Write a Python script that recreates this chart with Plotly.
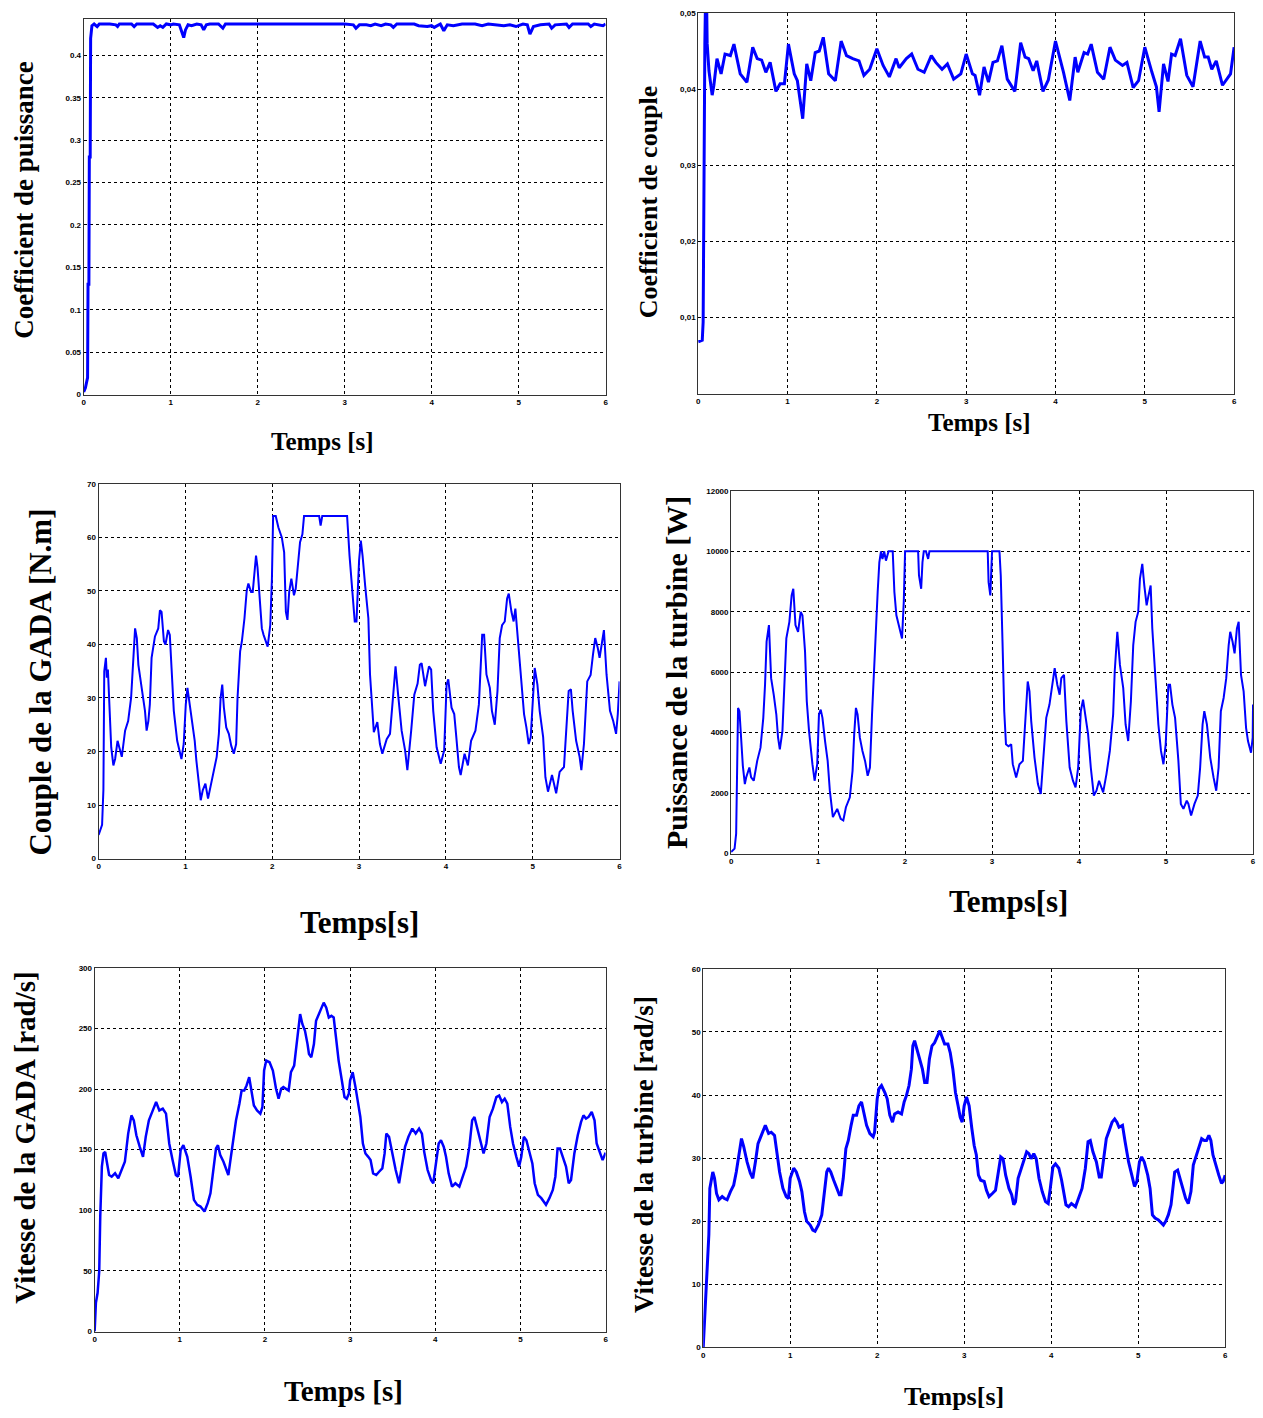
import plotly.graph_objects as go

W, H = 1263, 1418

# ---------------- data ----------------
# Plot 1 : Coefficient de puissance
cp_t = [0, 0.02, 0.045, 0.05, 0.06, 0.065, 0.075, 0.08, 0.095, 0.12,
        0.155, 0.18, 0.3, 0.37, 0.39, 0.41, 0.55, 0.58, 0.61, 0.8,
        0.85, 0.88, 0.91, 0.95, 1.0, 1.03, 1.1, 1.13, 1.15, 1.17,
        1.2, 1.24, 1.3, 1.35, 1.38, 1.41, 1.45, 1.55, 1.6, 1.63,
        3.0, 3.1, 3.13, 3.17, 3.25, 3.3, 3.35, 3.42, 3.47, 3.53,
        3.56, 3.6, 3.8, 3.85, 3.95, 4.0, 4.03, 4.1, 4.14, 4.18,
        4.25, 4.35, 4.5, 4.58, 4.65, 4.83, 4.9, 4.97, 5.05, 5.1,
        5.13, 5.17, 5.25, 5.35, 5.38, 5.42, 5.55, 5.58, 5.62, 5.8,
        5.83, 5.87, 5.97, 6.0]
cp_v = [0.003, 0.008, 0.02, 0.13, 0.13, 0.28, 0.28, 0.42, 0.435, 0.437,
        0.434, 0.437, 0.437, 0.436, 0.434, 0.437, 0.437, 0.434, 0.437, 0.437,
        0.433, 0.435, 0.433, 0.437, 0.436, 0.437, 0.436, 0.428, 0.421, 0.430,
        0.436, 0.435, 0.437, 0.436, 0.430, 0.436, 0.437, 0.437, 0.432, 0.437,
        0.437, 0.436, 0.432, 0.436, 0.436, 0.435, 0.437, 0.435, 0.437, 0.436,
        0.433, 0.437, 0.437, 0.435, 0.434, 0.435, 0.433, 0.437, 0.429, 0.436,
        0.435, 0.437, 0.437, 0.435, 0.437, 0.435, 0.436, 0.434, 0.437, 0.436,
        0.425, 0.434, 0.436, 0.437, 0.432, 0.436, 0.437, 0.433, 0.437, 0.437,
        0.434, 0.437, 0.435, 0.437]

# Plot 2 : Coefficient de couple
cm_t = [0, 0.045, 0.055, 0.063, 0.074, 0.08, 0.095, 0.1, 0.12, 0.156,
        0.175, 0.21, 0.256, 0.30, 0.36, 0.40, 0.47, 0.545, 0.61, 0.66,
        0.71, 0.757, 0.805, 0.87, 0.917, 0.965, 1.01, 1.075, 1.11, 1.17,
        1.215, 1.26, 1.31, 1.355, 1.40, 1.46, 1.535, 1.60, 1.66, 1.73,
        1.8, 1.855, 1.92, 2.0, 2.07, 2.14, 2.215, 2.25, 2.33, 2.39,
        2.46, 2.53, 2.61, 2.66, 2.73, 2.79, 2.86, 2.94, 3.0, 3.07,
        3.1, 3.15, 3.2, 3.25, 3.3, 3.35, 3.4, 3.46, 3.545, 3.61,
        3.66, 3.7, 3.75, 3.79, 3.86, 3.92, 4.0, 4.09, 4.16, 4.22,
        4.25, 4.32, 4.36, 4.4, 4.47, 4.54, 4.61, 4.67, 4.75, 4.8,
        4.87, 4.93, 5.0, 5.08, 5.13, 5.16, 5.21, 5.26, 5.3, 5.34,
        5.4, 5.47, 5.54, 5.62, 5.67, 5.71, 5.75, 5.8, 5.87, 5.96,
        6.0]
cm_v = [0.0068, 0.0070, 0.0094, 0.0298, 0.0459, 0.0505, 0.0505, 0.046, 0.0424, 0.0392,
        0.0405, 0.044, 0.042, 0.0446, 0.0444, 0.0459, 0.042, 0.0409, 0.0455, 0.044,
        0.0438, 0.0422, 0.0435, 0.0397, 0.0407, 0.0407, 0.0459, 0.042, 0.0411, 0.0361,
        0.0433, 0.0411, 0.0448, 0.0450, 0.0468, 0.042, 0.0411, 0.0463, 0.0444, 0.044,
        0.0437, 0.0418, 0.0426, 0.0453, 0.0431, 0.0416, 0.044, 0.0428, 0.044, 0.0446,
        0.0426, 0.0422, 0.0444, 0.0435, 0.0426, 0.0433, 0.0413, 0.042, 0.0446, 0.042,
        0.0418, 0.0392, 0.0429, 0.0409, 0.0435, 0.0437, 0.0457, 0.0413, 0.0397, 0.0461,
        0.0442, 0.044, 0.0424, 0.0437, 0.0397, 0.0412, 0.0463, 0.0422, 0.0385, 0.0442,
        0.0422, 0.0448, 0.0446, 0.0459, 0.0422, 0.0413, 0.0455, 0.0438, 0.0431, 0.0435,
        0.0402, 0.0411, 0.0455, 0.0422, 0.0403, 0.037, 0.0433, 0.041, 0.0446, 0.0444,
        0.0466, 0.0418, 0.0403, 0.0463, 0.0442, 0.0442, 0.0426, 0.0437, 0.0405, 0.042,
        0.0455]

# Plot 3 : Couple de la GADA
tem_t = [0, 0.04, 0.055, 0.065, 0.084, 0.095, 0.107, 0.12, 0.134, 0.145,
         0.17, 0.19, 0.218, 0.237, 0.267, 0.305, 0.34, 0.374, 0.393, 0.42,
         0.44, 0.458, 0.496, 0.534, 0.553, 0.573, 0.59, 0.61, 0.649, 0.687,
         0.706, 0.725, 0.752, 0.77, 0.80, 0.82, 0.84, 0.866, 0.905, 0.954,
         0.98, 1.004, 1.023, 1.05, 1.08, 1.107, 1.126, 1.157, 1.176, 1.2,
         1.23, 1.26, 1.3, 1.324, 1.36, 1.385, 1.405, 1.424, 1.443, 1.47,
         1.5, 1.527, 1.557, 1.584, 1.6, 1.63, 1.65, 1.68, 1.706, 1.725,
         1.756, 1.775, 1.794, 1.813, 1.83, 1.85, 1.88, 1.9, 1.947, 1.977,
         1.996, 2.01, 2.04, 2.07, 2.11, 2.137, 2.157, 2.175, 2.195, 2.22,
         2.25, 2.27, 2.29, 2.32, 2.347, 2.366, 2.54, 2.557, 2.576, 2.862,
         2.89, 2.92, 2.95, 2.97, 2.985, 3.0, 3.02, 3.04, 3.07, 3.107,
         3.126, 3.15, 3.17, 3.21, 3.24, 3.268, 3.318, 3.356, 3.395, 3.42,
         3.45, 3.49, 3.53, 3.556, 3.6, 3.636, 3.674, 3.7, 3.72, 3.76,
         3.805, 3.83, 3.854, 3.893, 3.94, 3.98, 4.008, 4.027, 4.065, 4.096,
         4.12, 4.15, 4.17, 4.215, 4.253, 4.29, 4.34, 4.38, 4.418, 4.44,
         4.467, 4.506, 4.53, 4.563, 4.594, 4.62, 4.647, 4.678, 4.705, 4.724,
         4.755, 4.78, 4.8, 4.837, 4.87, 4.9, 4.927, 4.954, 4.977, 5.0,
         5.023, 5.054, 5.08, 5.12, 5.146, 5.176, 5.222, 5.27, 5.31, 5.36,
         5.387, 5.414, 5.44, 5.46, 5.5, 5.54, 5.56, 5.59, 5.628, 5.667,
         5.694, 5.72, 5.75, 5.77, 5.8, 5.82, 5.85, 5.89, 5.927, 5.96,
         5.98, 6.0]
tem_v = [4.4, 6.3, 12.8, 35, 37.5, 33.8, 35.3, 29.4, 25, 20.8,
         17.4, 18.6, 22, 20.8, 19, 23.9, 25.7, 30, 36.2, 43,
         41.2, 36.2, 31.9, 27.6, 23.9, 25.7, 28.8, 37.5, 41.5, 43,
         46.4, 46.1, 40.6, 40, 42.7, 41.8, 35.6, 27.6, 22, 18.6,
         21.4, 28.8, 31.9, 28.8, 25, 22, 18.3, 14, 10.9, 12.8,
         14, 11.2, 14.6, 16.5, 19, 23.3, 30, 32.5, 28.2, 24.5,
         23.3, 21.1, 19.6, 21.4, 30, 38.7, 40.6, 44.9, 50.1, 51.4,
         49.8, 49.8, 53.8, 56.6, 54.4, 49.2, 43, 41.8, 39.6, 43.6,
         52.3, 64, 64, 61.9, 60, 57.2, 46.1, 44.6, 49.8, 52.3,
         49.2, 50.4, 54.4, 59.1, 60.6, 64, 64, 62.2, 64, 64,
         56.6, 50.4, 44.3, 44.3, 49.8, 55.7, 59.4, 56.6, 51, 44.9,
         34.4, 28.2, 23.6, 25.5, 21.4, 19.6, 22.3, 23.3, 31.3, 35.9,
         30.6, 23.9, 20.2, 16.5, 23.9, 30.6, 32.7, 36.2, 36.5, 32.2,
         35.9, 35.3, 27.6, 20.8, 17.7, 20.2, 32.5, 33.5, 28.2, 27,
         22.7, 17.1, 15.6, 19.6, 17.4, 22, 23.9, 28.8, 41.8, 41.8,
         34.4, 31.9, 27.6, 25, 31.3, 41.2, 43.6, 44.3, 48.6, 49.5,
         46.1, 44.3, 46.7, 39.3, 31.3, 27, 24.5, 21.4, 22.7, 30.6,
         35.6, 32.5, 27.6, 22.7, 15.2, 12.5, 15.6, 12.2, 16.2, 17.1,
         23.3, 31.3, 31.6, 27.6, 22, 19, 16.5, 21.4, 33.1, 34.3,
         38.1, 41.2, 39.3, 37.5, 40.6, 42.7, 34.4, 27.6, 25.7, 23.3,
         27, 33.1]

# Plot 4 : Puissance de la turbine
pt_t = [0, 0.04, 0.058, 0.069, 0.08, 0.096, 0.115, 0.135, 0.158, 0.173,
        0.21, 0.23, 0.26, 0.3, 0.338, 0.37, 0.39, 0.408, 0.435, 0.46,
        0.49, 0.52, 0.54, 0.56, 0.59, 0.61, 0.635, 0.67, 0.696, 0.715,
        0.74, 0.77, 0.8, 0.82, 0.85, 0.87, 0.896, 0.935, 0.96, 0.99,
        1.01, 1.03, 1.05, 1.08, 1.11, 1.135, 1.17, 1.22, 1.26, 1.29,
        1.32, 1.365, 1.396, 1.415, 1.435, 1.454, 1.48, 1.51, 1.54, 1.57,
        1.596, 1.62, 1.646, 1.665, 1.685, 1.704, 1.723, 1.74, 1.76, 1.78,
        1.81, 1.858, 1.877, 1.9, 1.935, 1.965, 1.985, 2.0, 2.15, 2.16,
        2.185, 2.2, 2.215, 2.24, 2.265, 2.28, 2.95, 2.96, 2.98, 2.99,
        3.0, 3.085, 3.1, 3.12, 3.14, 3.16, 3.188, 3.22, 3.238, 3.277,
        3.315, 3.354, 3.38, 3.41, 3.43, 3.45, 3.488, 3.527, 3.56, 3.585,
        3.623, 3.66, 3.688, 3.72, 3.75, 3.777, 3.796, 3.827, 3.854, 3.892,
        3.93, 3.96, 3.99, 4.02, 4.046, 4.073, 4.104, 4.135, 4.17, 4.2,
        4.23, 4.277, 4.315, 4.354, 4.392, 4.41, 4.44, 4.47, 4.508, 4.535,
        4.565, 4.596, 4.623, 4.65, 4.68, 4.7, 4.727, 4.75, 4.777, 4.796,
        4.823, 4.842, 4.873, 4.912, 4.942, 4.97, 4.996, 5.027, 5.046, 5.073,
        5.104, 5.142, 5.17, 5.2, 5.238, 5.257, 5.288, 5.327, 5.365, 5.392,
        5.42, 5.44, 5.47, 5.508, 5.546, 5.577, 5.604, 5.63, 5.662, 5.692,
        5.72, 5.738, 5.765, 5.788, 5.815, 5.835, 5.862, 5.892, 5.92, 5.942,
        5.977, 5.996, 6.0]
pt_v = [55, 164, 657, 3395, 4819, 4710, 3724, 2902, 2300, 2519,
        2848, 2519, 2410, 3067, 3505, 4491, 5586, 7010, 7558, 5805,
        5257, 4600, 3834, 3450, 4053, 5476, 7119, 7667, 8543, 8762,
        7558, 7338, 7996, 7886, 6681, 5038, 4053, 2957, 2410, 2957,
        4600, 4764, 4491, 3724, 3067, 2081, 1205, 1479, 1150, 1095,
        1533, 1862, 2738, 3943, 4819, 4600, 3834, 3395, 3067, 2574,
        2848, 4600, 6352, 7448, 8653, 9639, 10000, 9748, 10000, 9693,
        10000, 10000, 8653, 7886, 7448, 7119, 8324, 10000, 10000, 9200,
        8762, 9639, 10000, 10000, 9748, 10000, 10000, 8981, 8543, 9300,
        10000, 10000, 9200, 7010, 4710, 3614, 3550, 3614, 2957, 2519,
        2957, 3067, 4491, 5695, 5367, 4381, 3176, 2300, 1971, 2957,
        4491, 4929, 5586, 6133, 5586, 5257, 5805, 5915, 4381, 2848,
        2410, 2190, 2848, 4710, 5093, 4491, 3943, 2848, 1917, 2081,
        2410, 2026, 2629, 3395, 4600, 6024, 7338, 6243, 5476, 4271,
        3724, 5038, 6900, 7667, 7996, 9091, 9584, 8872, 8215, 8500,
        8872, 7448, 5915, 4271, 3395, 2957, 3614, 5586, 5586, 4929,
        4491, 3067, 1643, 1479, 1752, 1643, 1260, 1643, 1917, 2848,
        4271, 4710, 4271, 3176, 2519, 2081, 2848, 4710, 5148, 5805,
        6900, 7338, 7010, 6626, 7448, 7667, 5915, 5367, 4162, 3724,
        3340, 3834, 4929]

# Plot 5 : Vitesse de la GADA
wg_t = [0, 0.015, 0.035, 0.054, 0.066, 0.085, 0.104, 0.124, 0.143, 0.17,
        0.2, 0.24, 0.278, 0.317, 0.355, 0.394, 0.432, 0.46, 0.49, 0.53,
        0.568, 0.6, 0.637, 0.683, 0.722, 0.76, 0.8, 0.838, 0.876, 0.915,
        0.954, 0.98, 1.01, 1.042, 1.088, 1.127, 1.166, 1.205, 1.243, 1.29,
        1.328, 1.36, 1.4, 1.425, 1.448, 1.475, 1.513, 1.544, 1.57, 1.6,
        1.63, 1.66, 1.7, 1.726, 1.757, 1.784, 1.815, 1.84, 1.87, 1.907,
        1.946, 1.97, 1.99, 2.015, 2.054, 2.093, 2.13, 2.16, 2.19, 2.216,
        2.247, 2.278, 2.305, 2.343, 2.363, 2.394, 2.413, 2.44, 2.47, 2.5,
        2.517, 2.544, 2.575, 2.6, 2.633, 2.664, 2.69, 2.72, 2.75, 2.78,
        2.807, 2.834, 2.865, 2.903, 2.934, 2.96, 2.985, 3.0, 3.03, 3.063,
        3.094, 3.12, 3.15, 3.18, 3.213, 3.24, 3.27, 3.307, 3.34, 3.378,
        3.405, 3.425, 3.457, 3.496, 3.535, 3.575, 3.614, 3.645, 3.685, 3.73,
        3.77, 3.81, 3.843, 3.87, 3.91, 3.95, 3.976, 4.0, 4.04, 4.067,
        4.1, 4.126, 4.157, 4.197, 4.236, 4.283, 4.323, 4.362, 4.4, 4.433,
        4.46, 4.49, 4.527, 4.567, 4.6, 4.638, 4.677, 4.717, 4.75, 4.783,
        4.815, 4.846, 4.88, 4.913, 4.952, 4.984, 5.01, 5.04, 5.07, 5.1,
        5.14, 5.167, 5.205, 5.245, 5.276, 5.3, 5.34, 5.38, 5.41, 5.436,
        5.464, 5.5, 5.535, 5.567, 5.594, 5.633, 5.673, 5.712, 5.74, 5.77,
        5.8, 5.837, 5.87, 5.895, 5.935, 5.965, 6.0]
wg_v = [0, 23.8, 32, 49.8, 95, 136, 146.9, 148.2, 140, 129.1,
        127.7, 130.5, 126.4, 133.2, 140, 163.3, 178.3, 174.2, 161.9, 152.3,
        144.1, 160.6, 174.2, 182.4, 189.3, 182.4, 183.8, 179.7, 155.1, 141.4,
        129.1, 127.7, 149.6, 153.7, 144.1, 127.7, 108.6, 104.5, 103.1, 99,
        105.9, 114, 136, 151, 153.7, 145.5, 140, 133.2, 129.1, 144.1,
        160.6, 174.2, 187.9, 198.8, 198.8, 203, 209.8, 198.8, 186.5, 182.4,
        179.7, 185.2, 215.3, 223.5, 222.1, 215.3, 200.2, 192, 200.2, 201.6,
        200.2, 198.8, 213.9, 219.4, 231.7, 253.5, 261.8, 253.5, 248.1, 237.1,
        228.9, 226.2, 237.1, 256.3, 261.8, 265.9, 271.3, 267.2, 259, 260.4,
        259, 242.6, 223.5, 207.1, 193.4, 192, 196.1, 207.1, 213.9, 201.6,
        187.9, 177, 155.1, 146.9, 144.1, 141.4, 130.5, 129.1, 131.8, 134.6,
        146.9, 163.3, 160.6, 146.9, 133.2, 122.3, 138.7, 152.3, 160.6, 167.4,
        163.3, 167.4, 163.3, 148.2, 133.2, 125, 122.3, 136, 155.1, 157.8,
        152.3, 144.1, 130.5, 119.5, 122.3, 119.5, 127.7, 136, 152.3, 174.2,
        177, 168.8, 157.8, 146.9, 155.1, 177, 183.8, 193.4, 194.7, 189.3,
        192, 187.9, 168.8, 155.1, 144.1, 136, 144.1, 160.6, 157.8, 149.6,
        138.7, 122.3, 112.7, 110, 107.2, 104.5, 110, 116.8, 127.7, 151,
        151, 144.1, 136, 122.3, 125, 146.9, 161.9, 172.9, 178.3, 175.6,
        177, 181.1, 174.2, 155.1, 146.9, 141.4, 147.5]

# Plot 6 : Vitesse de la turbine
wt_t = [0, 0.015, 0.034, 0.053, 0.065, 0.076, 0.092, 0.11, 0.13, 0.153,
        0.18, 0.218, 0.244, 0.275, 0.313, 0.35, 0.38, 0.416, 0.44, 0.466,
        0.504, 0.542, 0.57, 0.6, 0.63, 0.668, 0.714, 0.752, 0.782, 0.82,
        0.847, 0.878, 0.916, 0.954, 0.98, 1.0, 1.04, 1.07, 1.107, 1.134,
        1.164, 1.19, 1.23, 1.26, 1.286, 1.324, 1.363, 1.393, 1.42, 1.44,
        1.466, 1.5, 1.534, 1.565, 1.584, 1.61, 1.64, 1.668, 1.7, 1.725,
        1.763, 1.79, 1.82, 1.847, 1.878, 1.916, 1.954, 1.97, 2.0, 2.02,
        2.05, 2.088, 2.115, 2.145, 2.176, 2.2, 2.24, 2.28, 2.31, 2.336,
        2.366, 2.393, 2.41, 2.43, 2.45, 2.48, 2.52, 2.546, 2.573, 2.6,
        2.63, 2.66, 2.69, 2.72, 2.748, 2.775, 2.813, 2.84, 2.87, 2.9,
        2.93, 2.954, 2.977, 3.0, 3.027, 3.057, 3.088, 3.115, 3.14, 3.164,
        3.19, 3.23, 3.256, 3.286, 3.324, 3.36, 3.393, 3.42, 3.447, 3.477,
        3.515, 3.546, 3.57, 3.59, 3.62, 3.65, 3.687, 3.718, 3.744, 3.77,
        3.8, 3.828, 3.86, 3.897, 3.935, 3.966, 3.99, 4.02, 4.05, 4.088,
        4.12, 4.145, 4.17, 4.2, 4.233, 4.28, 4.317, 4.355, 4.393, 4.424,
        4.45, 4.48, 4.52, 4.553, 4.576, 4.6, 4.634, 4.668, 4.7, 4.73,
        4.756, 4.78, 4.82, 4.85, 4.89, 4.927, 4.958, 4.985, 5.015, 5.04,
        5.07, 5.11, 5.137, 5.164, 5.194, 5.233, 5.263, 5.29, 5.317, 5.347,
        5.378, 5.405, 5.42, 5.454, 5.48, 5.52, 5.546, 5.576, 5.607, 5.634,
        5.67, 5.7, 5.73, 5.76, 5.786, 5.813, 5.836, 5.86, 5.9, 5.927,
        5.958, 5.977, 6.0]
wt_v = [0, 4.2, 7.4, 13.1, 17.9, 25.2, 26.8, 27.8, 26.8, 24.4,
        23.4, 23.9, 23.6, 23.4, 24.7, 25.7, 27.8, 31.5, 33.1, 31.8,
        29.4, 27.6, 26.8, 29.4, 32.3, 33.6, 35.2, 33.9, 34.1, 33.6,
        31, 27.8, 25.2, 23.9, 23.6, 26.8, 28.4, 27.8, 26.3, 24.7,
        21.5, 20, 19.4, 18.6, 18.4, 19.4, 21, 24.2, 27.8, 28.4,
        27.8, 26.5, 25.2, 24.2, 24.2, 26.8, 31.5, 32.8, 35.2, 36.8,
        36.8, 38.3, 38.9, 37.3, 35.2, 33.9, 33.4, 34.1, 39.4, 41,
        41.5, 40.4, 39.4, 36.8, 35.7, 37, 37.3, 37, 38.9, 39.9,
        41.5, 44.1, 47.8, 48.6, 47.5, 46.2, 44.1, 42, 42, 45.7,
        47.8, 48.3, 49.4, 50.2, 49.1, 48.1, 48.1, 46.7, 44.1, 40.4,
        38.3, 36.5, 35.7, 38.3, 39.7, 38.3, 34.7, 32, 30.5, 27.3,
        26.5, 26.3, 24.9, 23.9, 24.4, 24.9, 27.8, 30.2, 29.9, 27.3,
        25.2, 24.2, 22.6, 23.1, 26.8, 28.1, 29.9, 31, 30.7, 29.9,
        30.7, 29.9, 26.8, 24.7, 23.1, 22.8, 25.2, 28.6, 29.1, 28.4,
        26.5, 24.2, 22.6, 22.3, 22.8, 22.3, 23.6, 25.2, 28.4, 32.6,
        32.8, 31, 29.4, 27, 27, 29.4, 33.1, 34.4, 35.7, 36.2,
        35.7, 34.9, 35.2, 32.6, 29.4, 27.3, 25.5, 26.3, 29.4, 30.2,
        29.4, 27.3, 25.2, 21, 20.5, 20.2, 19.7, 19.4, 20, 21,
        22.6, 25.7, 27.8, 28.1, 26.8, 25.2, 23.6, 22.8, 24.7, 28.9,
        30.5, 32, 33.1, 32.8, 32.8, 33.6, 32.8, 30.5, 28.4, 27.3,
        26, 26.3, 27.3]

x_ticks = [0, 1, 2, 3, 4, 5, 6]
cm_ticks = [0.01, 0.02, 0.03, 0.04, 0.05]
cm_ticktext = ["0,01", "0,02", "0,03", "0,04", "0,05"]

# ---------------- figure ----------------
# panel spec: data, pixel box (left, right, top, bottom), y range, y dtick, line width
panels = [
    dict(t=cp_t, v=cp_v, box=(82, 606, 15, 393), yr=[0, 0.443], dt=0.05, lw=3),
    dict(t=cm_t, v=cm_v, box=(699, 1237, 9, 392), yr=[0, 0.05], dt=None, lw=3),
    dict(t=tem_t, v=tem_v, box=(97, 620, 483, 860), yr=[0, 70], dt=10, lw=2),
    dict(t=pt_t, v=pt_v, box=(732, 1256, 490, 855), yr=[0, 12000], dt=2000, lw=2),
    dict(t=wg_t, v=wg_v, box=(93, 606, 970, 1336), yr=[0, 300], dt=50, lw=2.5),
    dict(t=wt_t, v=wt_v, box=(704, 1228, 971, 1352), yr=[0, 60], dt=10, lw=3),
]

fig = go.Figure()
tickfont = dict(family="Liberation Sans", size=8, color="black", weight="bold")
layout = dict(width=W, height=H, margin=dict(l=0, r=0, t=0, b=0),
              paper_bgcolor="white", plot_bgcolor="white", showlegend=False)

for i, p in enumerate(panels, start=1):
    l, r, t, b = p["box"]
    sfx = "" if i == 1 else str(i)
    fig.add_trace(go.Scatter(x=p["t"], y=p["v"], mode="lines",
                             line=dict(color="#0000FF", width=p["lw"]),
                             xaxis="x" + sfx, yaxis="y" + sfx, hoverinfo="skip"))
    common = dict(showgrid=True, gridcolor="black", gridwidth=1, griddash="3px,3px",
                  showline=True, mirror=True, linecolor="#333333", linewidth=1,
                  zeroline=False, ticks="", tickfont=tickfont, fixedrange=True)
    xa = dict(common, domain=[l / W, r / W], range=[0, 6], tickvals=x_ticks,
              anchor="y" + sfx)
    ya = dict(common, domain=[1 - b / H, 1 - t / H], range=p["yr"], anchor="x" + sfx)
    if p["dt"] is None:
        ya.update(tickvals=cm_ticks, ticktext=cm_ticktext)
    else:
        ya.update(tick0=0, dtick=p["dt"], tickformat="~g" if p["dt"] < 1 else "d")
    layout["xaxis" + sfx] = xa
    layout["yaxis" + sfx] = ya

fig.update_layout(**layout)

serif = "Liberation Serif"
ytitles = [("Coefficient de puissance", 22, 197, 27),
           ("Coefficient de couple", 649, 199, 26),
           ("Couple de la GADA [N.m]", 39, 682, 31),
           ("Puissance de la turbine [W]", 677, 673, 30),
           ("Vitesse de la GADA [rad/s]", 23, 1141, 29),
           ("Vitesse de la turbine [rad/s]", 644, 1158, 27)]
xtitles = [("Temps [s]", 322, 440, 25),
           ("Temps [s]", 981, 421, 25),
           ("Temps[s]", 359, 924, 31),
           ("Temps[s]", 1010, 903, 31),
           ("Temps [s]", 343, 1396, 29),
           ("Temps[s]", 956, 1401, 26)]
for txt, px, py, fs in ytitles:
    fig.add_annotation(text="<b>%s</b>" % txt, x=px / W, y=1 - py / H, xref="paper", yref="paper",
                       showarrow=False, textangle=-90, xanchor="center", yanchor="middle",
                       font=dict(family=serif, size=fs, color="black"))
for txt, px, py, fs in xtitles:
    fig.add_annotation(text="<b>%s</b>" % txt, x=px / W, y=1 - py / H, xref="paper", yref="paper",
                       showarrow=False, xanchor="center", yanchor="middle",
                       font=dict(family=serif, size=fs, color="black"))

fig.write_html("out.html", config={"displayModeBar": False},
               post_script="document.body.style.margin='0';")
